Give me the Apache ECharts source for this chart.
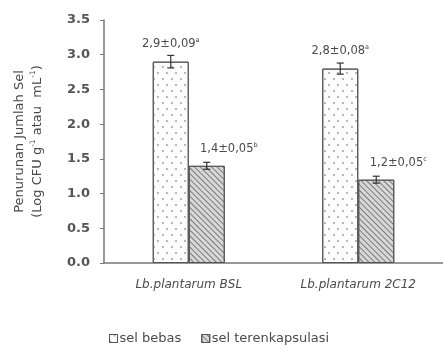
<!DOCTYPE html>
<html><head><meta charset="utf-8">
<script src="https://cdn.jsdelivr.net/npm/echarts@6/dist/echarts.min.js"></script>
<style>html,body{margin:0;padding:0;background:#fff}#c{width:443px;height:349px}</style>
</head><body><div id="c"></div>
<script>
var categories = ['Lb.plantarum BSL', 'Lb.plantarum 2C12'];
var seriesNames = ['sel bebas', 'sel terenkapsulasi'];
var bebas = [2.9, 2.8];
var bebasErr = [0.09, 0.08];
var bebasLabels = ['2,9±0,09', '2,8±0,08'];
var bebasSup = ['a', 'a'];
var enkap = [1.4, 1.2];
var enkapErr = [0.05, 0.05];
var enkapLabels = ['1,4±0,05', '1,2±0,05'];
var enkapSup = ['b', 'c'];

var BW = 36;
var txt = '#4a4a4a';
var font = 'DejaVu Sans';

function errSeries(vals, errs, dx) {
  return {
    type: 'custom', silent: true, z: 5,
    data: vals.map(function (v, i) { return [i, v, errs[i]]; }),
    renderItem: function (params, api) {
      var c = api.coord([api.value(0), api.value(1)]);
      var hi = api.coord([api.value(0), api.value(1) + api.value(2)]);
      var lo = api.coord([api.value(0), api.value(1) - api.value(2)]);
      var x = c[0] + dx, w = 3.5;
      var st = { stroke: '#333', lineWidth: 1.2 };
      return { type: 'group', children: [
        { type: 'line', shape: { x1: x, y1: hi[1], x2: x, y2: lo[1] }, style: st },
        { type: 'line', shape: { x1: x - w, y1: hi[1], x2: x + w, y2: hi[1] }, style: st },
        { type: 'line', shape: { x1: x - w, y1: lo[1], x2: x + w, y2: lo[1] }, style: st }
      ]};
    }
  };
}

var rich = {
  t: { fontSize: 11.5, color: txt, fontFamily: font },
  s: { fontSize: 6.5, color: txt, fontFamily: font, verticalAlign: 'top', lineHeight: 14 }
};

var dotDecal = { symbol: 'rect', symbolSize: 1, color: '#b8b8b8',
  dashArrayX: [[1.6, 6.4], [0, 4, 1.6, 2.4]], dashArrayY: [1.6, 4] };
var hatchDecal = { symbol: 'rect', symbolSize: 1, color: '#7a7a7a',
  dashArrayX: [1, 0], dashArrayY: [0.9, 2.1], rotation: Math.PI / 4 };

var chart = echarts.init(document.getElementById('c'));
chart.setOption({
  animation: false,
  textStyle: { fontFamily: font },
  grid: { left: 104, top: 20, width: 348, bottom: 86, containLabel: false },
  legend: {
    left: 104, top: 327, itemWidth: 8, itemHeight: 8, itemGap: 20, icon: 'rect',
    textStyle: { fontSize: 13, color: txt, padding: [0, 0, 0, -3] },
    itemStyle: { borderWidth: 1, borderColor: '#555' },
    data: seriesNames
  },
  xAxis: {
    type: 'category', data: categories,
    axisLine: { lineStyle: { color: '#777', width: 1.5 } },
    axisTick: { alignWithLabel: true, length: 4, lineStyle: { color: '#777' } },
    axisLabel: { fontSize: 12, fontStyle: 'italic', color: txt, margin: 16 }
  },
  yAxis: {
    type: 'value', min: 0, max: 3.5, interval: 0.5,
    name: 'Penurunan Jumlah Sel\n(Log CFU g{s|-1} atau  mL{s|-1})',
    nameLocation: 'middle', nameRotate: 90, nameGap: 57,
    nameTextStyle: { fontSize: 13, color: txt, lineHeight: 18,
      rich: { s: { fontSize: 7.5, verticalAlign: 'top', lineHeight: 14, color: txt, fontFamily: font } } },
    splitLine: { show: false },
    axisLine: { show: true, lineStyle: { color: '#777', width: 1.5 } },
    axisTick: { show: true, length: 4, lineStyle: { color: '#777' } },
    axisLabel: { fontSize: 13, fontWeight: 'bold', color: '#555', margin: 14,
      formatter: function (v) { return v.toFixed(1); } }
  },
  series: [
    {
      name: seriesNames[0], type: 'bar', data: bebas, barWidth: BW, barGap: '0%',
      itemStyle: { color: '#fcfcfc', borderColor: '#555', borderWidth: 1, decal: dotDecal },
      label: { show: true, position: 'top', distance: 11,
        formatter: function (p) { return '{t|' + bebasLabels[p.dataIndex] + '}{s|' + bebasSup[p.dataIndex] + '}'; },
        rich: rich }
    },
    {
      name: seriesNames[1], type: 'bar', data: enkap, barWidth: BW,
      itemStyle: { color: '#d8d8d8', borderColor: '#555', borderWidth: 1, decal: hatchDecal },
      label: { show: true, position: 'top', distance: 10, offset: [22, 0],
        formatter: function (p) { return '{t|' + enkapLabels[p.dataIndex] + '}{s|' + enkapSup[p.dataIndex] + '}'; },
        rich: rich }
    },
    errSeries(bebas, bebasErr, -BW / 2),
    errSeries(enkap, enkapErr, BW / 2)
  ]
});
</script></body></html>
